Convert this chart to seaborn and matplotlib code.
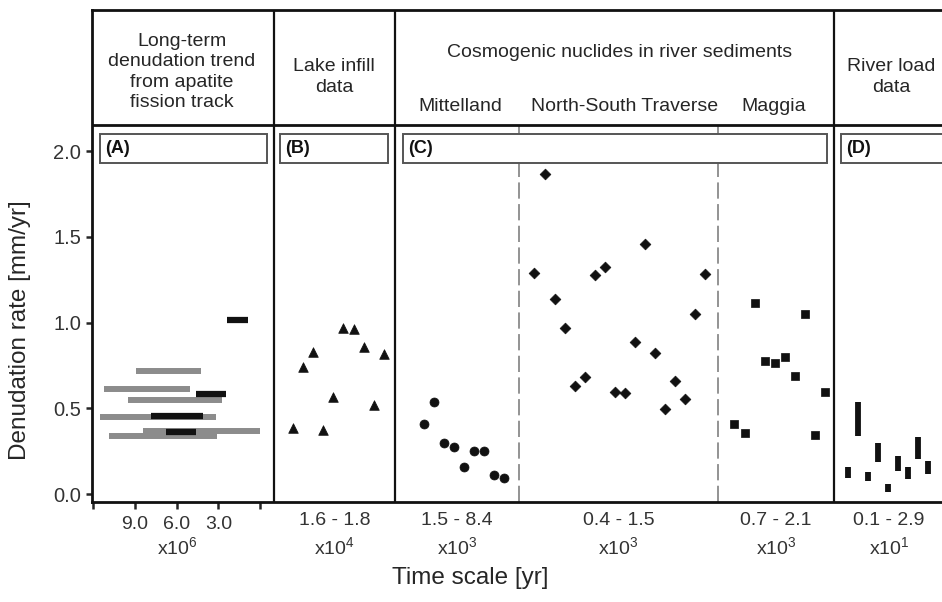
"""Denudation rates across time scales, redrawn with seaborn/matplotlib."""
import matplotlib
matplotlib.use("Agg")
import matplotlib.pyplot as plt
from matplotlib.patches import Rectangle
import numpy as np
import pandas as pd
import seaborn as sns

sns.set_style("ticks")
plt.rcParams["font.family"] = ["Liberation Sans", "DejaVu Sans"]
plt.rcParams["mathtext.fontset"] = "custom"
plt.rcParams["mathtext.rm"] = "Liberation Sans"
plt.rcParams["mathtext.it"] = "Liberation Sans:italic"
plt.rcParams["mathtext.bf"] = "Liberation Sans:bold"

# ---- data ----
# (A) apatite fission track: time range in Myr and rate in mm/yr
aft_grey_start = [8.94, 11.22, 9.47, 11.51, 8.40, 10.88]
aft_grey_end = [4.23, 5.04, 2.73, 3.19, 0.0, 3.09]
aft_grey_rate = [0.721, 0.612, 0.551, 0.452, 0.370, 0.341]
aft_black_start = [2.37, 4.60, 7.84, 6.76]
aft_black_end = [0.86, 2.45, 4.08, 4.60]
aft_black_rate = [1.014, 0.582, 0.457, 0.361]

# (B) lake infill
lake_x = [293, 303, 313, 323, 333, 343, 354, 364, 374, 384]
lake_rate = [0.385, 0.740, 0.828, 0.375, 0.569, 0.967, 0.962, 0.857, 0.520, 0.818]

# (C) cosmogenic nuclides
mitt_x = [424, 434, 444, 454, 464, 474, 484, 494, 504]
mitt_rate = [0.408, 0.536, 0.299, 0.274, 0.157, 0.252, 0.252, 0.111, 0.097]
nst_x = [534, 545, 555, 565, 575, 585, 595, 605, 615, 625, 635, 645, 655,
         665, 675, 685, 695, 705]
nst_rate = [1.288, 1.867, 1.138, 0.971, 0.631, 0.682, 1.276, 1.323, 0.594,
            0.589, 0.888, 1.460, 0.825, 0.495, 0.662, 0.557, 1.049, 1.282]
mag_x = [734, 745, 755, 765, 775, 785, 795, 805, 815, 825]
mag_rate = [0.410, 0.357, 1.117, 0.777, 0.763, 0.798, 0.688, 1.052, 0.346, 0.596]

# (D) river load: min / max rate
load_x = [848, 858, 868, 878, 888, 898, 908, 918, 928]
load_lo = [0.093, 0.341, 0.078, 0.186, 0.015, 0.138, 0.091, 0.206, 0.117]
load_hi = [0.161, 0.536, 0.128, 0.301, 0.058, 0.225, 0.161, 0.336, 0.194]

aft_ticks = [12, 9, 6, 3, 0]
aft_ticklabels = ["", "9.0", "6.0", "3.0", ""]

range_labels = ["1.6 - 1.8", "1.5 - 8.4", "0.4 - 1.5", "0.7 - 2.1", "0.1 - 2.9"]
range_exps = ["4", "3", "3", "3", "1"]

yticks = [0.0, 0.5, 1.0, 1.5, 2.0]


def myr_to_x(t):
    # panel A time axis, reversed (old on the left)
    return 260 - 13.9 * np.asarray(t)


# ---- layout ----
W, H = 942, 602
fig = plt.figure(figsize=(W / 100, H / 100), dpi=100)
ax = fig.add_axes([92 / W, 100 / H, (950 - 92) / W, 492 / H])
ax.set_xlim(92, 950)
ax.set_ylim(-0.045, 2.822)

header_y = 2.152
box_lo, box_hi = 1.929, 2.099
ink = "#111111"
txt = "#262626"

for side in ["left", "top", "bottom"]:
    ax.spines[side].set_linewidth(2.0)
    ax.spines[side].set_color(ink)
ax.spines["right"].set_visible(False)

# panel frame lines
ax.axhline(header_y, color=ink, lw=2.0, zorder=3)
ax.vlines([274, 395, 834], -0.045, 2.822, color=ink, lw=1.6, zorder=3)
ax.vlines([519, 718], -0.045, header_y, color="#8a8a8a", lw=1.3,
          linestyles=(0, (9, 3)), zorder=1)

# (A) bars
ax.hlines(aft_grey_rate, myr_to_x(aft_grey_start), myr_to_x(aft_grey_end),
          color="#8c8c8c", lw=4.3, zorder=2)
ax.hlines(aft_black_rate, myr_to_x(aft_black_start), myr_to_x(aft_black_end),
          color=ink, lw=4.5, zorder=2)

# (B), (C) scatter
pts = pd.concat([
    pd.DataFrame(dict(x=lake_x, rate=lake_rate, group="lake")),
    pd.DataFrame(dict(x=mitt_x, rate=mitt_rate, group="mitt")),
    pd.DataFrame(dict(x=nst_x, rate=nst_rate, group="nst")),
    pd.DataFrame(dict(x=mag_x, rate=mag_rate, group="mag")),
])
markers = dict(lake="^", mitt="o", nst="D", mag="s")
sizes = dict(lake=48, mitt=42, nst=30, mag=38)
for g, sub in pts.groupby("group"):
    sns.scatterplot(data=sub, x="x", y="rate", marker=markers[g], s=sizes[g],
                    color=ink, edgecolor=ink, linewidth=0.5, ax=ax,
                    legend=False, zorder=4)

# (D) range bars
ax.vlines(load_x, load_lo, load_hi, color=ink, lw=4.2, zorder=4)

# panel label boxes
for x0, x1, lab in [(100, 267, "(A)"), (280, 388, "(B)"),
                    (403, 827, "(C)"), (841, 960, "(D)")]:
    ax.add_patch(Rectangle((x0, box_lo), x1 - x0, box_hi - box_lo,
                           facecolor="white", edgecolor="#555555", lw=1.4,
                           zorder=5, clip_on=False))
    ax.text(x0 + 5, (box_lo + box_hi) / 2, lab, fontsize=13, fontweight="bold",
            ha="left", va="center", color=ink, zorder=6)

# headers
hdr = dict(fontsize=14, ha="center", va="center", color=txt,
           linespacing=1.25)
ax.text(182, 2.461, "Long-term\ndenudation trend\nfrom apatite\nfission track", **hdr)
ax.text(334, 2.432, "Lake infill\ndata", **hdr)
ax.text(620, 2.572, "Cosmogenic nuclides in river sediments", **hdr)
ax.text(460, 2.257, "Mittelland", **hdr)
ax.text(625, 2.257, "North-South Traverse", **hdr)
ax.text(774, 2.257, "Maggia", **hdr)
ax.text(891, 2.432, "River load\ndata", **hdr)

# y axis
ax.set_yticks(yticks)
ax.set_yticklabels([f"{v:.1f}" for v in yticks])
ax.tick_params(axis="y", length=4, width=1.8, labelsize=14.5,
               labelcolor="#333333", pad=4)
ax.set_ylabel("Denudation rate [mm/yr]", fontsize=17.5, color=txt)
ax.yaxis.set_label_coords(-0.071, 0.35)

# x axis: only panel A has real ticks
ax.set_xticks(myr_to_x(aft_ticks))
ax.set_xticklabels(aft_ticklabels)
ax.tick_params(axis="x", length=5, width=1.8, labelsize=14,
               labelcolor="#333333", pad=5)
ax.text(177, -0.307, r"x10$^{6}$", fontsize=14, ha="center", va="center",
        color="#333333")
for xc, lab, ex in zip([334.5, 457, 618.5, 776, 889], range_labels, range_exps):
    ax.text(xc, -0.150, lab, fontsize=14, ha="center", va="center",
            color="#333333")
    ax.text(xc, -0.307, rf"x10$^{{{ex}}}$", fontsize=14, ha="center",
            va="center", color="#333333")
ax.text(470, -0.487, "Time scale [yr]", fontsize=17.5, ha="center",
        va="center", color=txt)
ax.set_xlabel("")

fig.savefig("out.png", dpi=100)
